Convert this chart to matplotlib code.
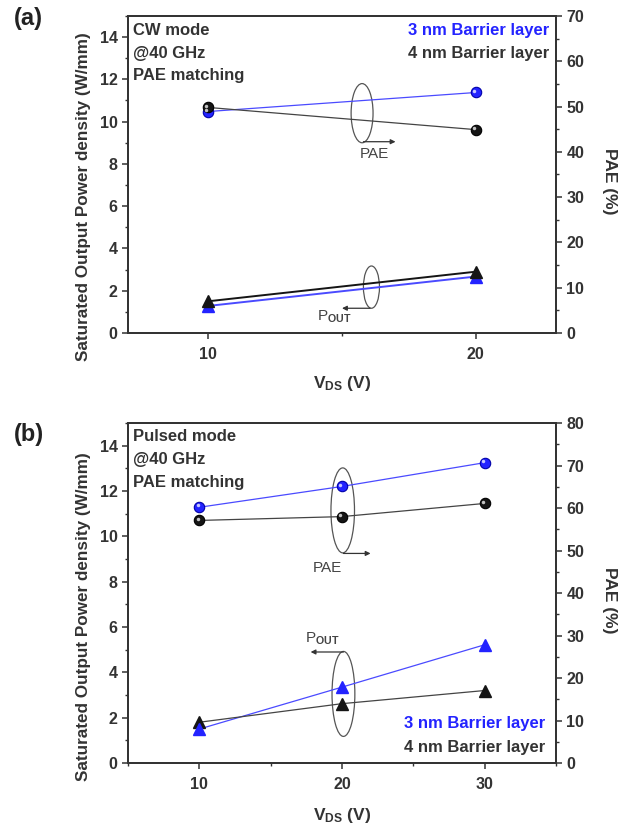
import matplotlib
matplotlib.use('Agg')
import matplotlib.pyplot as plt
from matplotlib.patches import Ellipse
from matplotlib.ticker import MultipleLocator
import matplotlib.transforms as mtransforms

plt.rcParams['font.family'] = ['Liberation Sans', 'DejaVu Sans']
plt.rcParams['font.weight'] = 'bold'
plt.rcParams['mathtext.fontset'] = 'custom'
plt.rcParams['mathtext.rm'] = 'Liberation Sans'
plt.rcParams['mathtext.bf'] = 'Liberation Sans:bold'
plt.rcParams['mathtext.it'] = 'Liberation Sans:italic'

# ---------------- data ----------------
vds_a = [10, 20]
pae_a_3nm = [48.9, 53.1]
pae_a_4nm = [49.8, 44.9]
pout_a_3nm = [1.28, 2.67]
pout_a_4nm = [1.50, 2.90]

vds_b = [10, 20, 30]
pae_b_3nm = [60.2, 65.1, 70.7]
pae_b_4nm = [57.1, 58.0, 61.1]
pout_b_3nm = [1.50, 3.35, 5.22]
pout_b_4nm = [1.80, 2.62, 3.20]

mode_a = ['CW mode', '@40 GHz', 'PAE matching']
mode_b = ['Pulsed mode', '@40 GHz', 'PAE matching']
legend_labels = ['3 nm Barrier layer', '4 nm Barrier layer']

BLUE = '#2323ff'
BLUE_LINE = '#4a4aff'
BLACK = '#151515'
GRAY = '#333333'

fig = plt.figure(figsize=(6.24, 8.31), dpi=100)
fig.patch.set_facecolor('white')


def sphere(ax, x, y, color, edge):
    ax.plot(x, y, ls='none', marker='o', ms=7.5, mfc=color, mec=edge, mew=0.8, zorder=5)
    tr = mtransforms.offset_copy(ax.transData, fig=fig, x=-1.3, y=1.3, units='points')
    ax.plot(x, y, ls='none', marker='o', ms=2.5, mfc='white', mec='none', alpha=0.75,
            transform=tr, zorder=6)


def style_axes(ax, ax2, xlim, xmaj, right_max):
    ax.set_xlim(*xlim)
    ax.set_ylim(0, 15)
    ax2.set_ylim(0, right_max)
    ax.xaxis.set_major_locator(MultipleLocator(xmaj))
    ax.xaxis.set_minor_locator(MultipleLocator(5))
    ax.yaxis.set_major_locator(MultipleLocator(2))
    ax.yaxis.set_minor_locator(MultipleLocator(1))
    ax2.yaxis.set_major_locator(MultipleLocator(10))
    ax2.yaxis.set_minor_locator(MultipleLocator(5))
    ax.set_yticks([0, 2, 4, 6, 8, 10, 12, 14])
    for a in (ax, ax2):
        a.tick_params(which='major', direction='out', length=4, width=1.1,
                      labelsize=11.5, colors=GRAY)
        a.tick_params(which='minor', direction='out', length=2.5, width=1.0, colors=GRAY)
        for s in a.spines.values():
            s.set_color(GRAY)
            s.set_linewidth(1.3)
    ax.tick_params(axis='x', pad=6)
    ax.text(-0.103, 0.43, 'Saturated Output Power density (W/mm)', transform=ax.transAxes,
            rotation=90, ha='center', va='center', fontsize=12.3, color=GRAY)
    ax.text(1.124, 0.48, 'PAE (%)', transform=ax.transAxes, rotation=270,
            ha='center', va='center', fontsize=12.5, color=GRAY)


def annot(ax, ell_xy, ell_w, ell_h, start, end, label, label_xy):
    ax.add_patch(Ellipse(ell_xy, ell_w, ell_h, fill=False, ec='#555555', lw=0.9, zorder=3))
    ax.annotate('', xy=end, xytext=start,
                arrowprops=dict(arrowstyle='-|>', lw=0.9, color='#333333',
                                mutation_scale=7, shrinkA=0, shrinkB=0), zorder=3)
    ax.text(label_xy[0], label_xy[1], label, ha='center', va='center', fontsize=11,
            fontweight='normal', color='#444444')


# ---------------- panel (a) ----------------
axA = fig.add_axes([0.2051, 0.5993, 0.686, 0.3815])
axA2 = axA.twinx()
style_axes(axA, axA2, (7, 23), 10, 70)

axA.plot(vds_a, pout_a_3nm, color=BLUE_LINE, lw=1.4, zorder=4)
axA.plot(vds_a, pout_a_4nm, color=BLACK, lw=1.4, zorder=4)
axA.plot(vds_a, pout_a_3nm, ls='none', marker='^', ms=8, color=BLUE, zorder=5)
axA.plot(vds_a, pout_a_4nm, ls='none', marker='^', ms=8, color=BLACK, zorder=5)

axA2.plot(vds_a, pae_a_3nm, color=BLUE_LINE, lw=0.9, zorder=4)
axA2.plot(vds_a, pae_a_4nm, color='#444444', lw=0.9, zorder=4)
sphere(axA2, vds_a, pae_a_3nm, BLUE, '#0000aa')
sphere(axA2, vds_a, pae_a_4nm, BLACK, '#000000')

annot(axA, (15.75, 10.4), 0.82, 2.8, (15.8, 9.05), (17.0, 9.05), 'PAE', (16.2, 8.45))
annot(axA, (16.1, 2.17), 0.6, 2.0, (16.05, 1.17), (15.0, 1.17), r'P$_{\mathrm{OUT}}$', (14.7, 0.75))

for i, t in enumerate(mode_a):
    axA.text(0.012, 0.955 - i * 0.072, t, transform=axA.transAxes, ha='left', va='center',
             fontsize=12, color=GRAY)
axA.text(0.985, 0.955, legend_labels[0], transform=axA.transAxes, ha='right', va='center',
         fontsize=12, color=BLUE)
axA.text(0.985, 0.883, legend_labels[1], transform=axA.transAxes, ha='right', va='center',
         fontsize=12, color=GRAY)
axA.text(0.5, -0.158, r'$\mathbf{V_{DS}}$ (V)', transform=axA.transAxes, ha='center',
         va='center', fontsize=12.5, color=GRAY)
fig.text(0.045, 0.978, '(a)', ha='center', va='center', fontsize=17, color='#222222')

# ---------------- panel (b) ----------------
axB = fig.add_axes([0.2051, 0.0818, 0.686, 0.409])
axB2 = axB.twinx()
style_axes(axB, axB2, (5, 35), 10, 80)

axB.plot(vds_b, pout_b_3nm, color=BLUE_LINE, lw=0.9, zorder=4)
axB.plot(vds_b, pout_b_4nm, color='#444444', lw=0.9, zorder=4)
axB.plot(vds_b, pout_b_4nm, ls='none', marker='^', ms=8, color=BLACK, zorder=5)
axB.plot(vds_b, pout_b_3nm, ls='none', marker='^', ms=8, color=BLUE, zorder=5)

axB2.plot(vds_b, pae_b_3nm, color=BLUE_LINE, lw=0.9, zorder=4)
axB2.plot(vds_b, pae_b_4nm, color='#444444', lw=0.9, zorder=4)
sphere(axB2, vds_b, pae_b_3nm, BLUE, '#0000aa')
sphere(axB2, vds_b, pae_b_4nm, BLACK, '#000000')

annot(axB, (20.05, 11.15), 1.65, 3.75, (20.1, 9.25), (22.0, 9.25), 'PAE', (18.95, 8.6))
annot(axB, (20.1, 3.05), 1.6, 3.75, (20.1, 4.9), (17.8, 4.9), r'P$_{\mathrm{OUT}}$', (18.6, 5.5))

for i, t in enumerate(mode_b):
    axB.text(0.012, 0.96 - i * 0.068, t, transform=axB.transAxes, ha='left', va='center',
             fontsize=12, color=GRAY)
axB.text(0.975, 0.115, legend_labels[0], transform=axB.transAxes, ha='right', va='center',
         fontsize=12, color=BLUE)
axB.text(0.975, 0.045, legend_labels[1], transform=axB.transAxes, ha='right', va='center',
         fontsize=12, color=GRAY)
axB.text(0.5, -0.153, r'$\mathbf{V_{DS}}$ (V)', transform=axB.transAxes, ha='center',
         va='center', fontsize=12.5, color=GRAY)
fig.text(0.047, 0.477, '(b)', ha='center', va='center', fontsize=17, color='#222222')

fig.savefig('out.png', dpi=100, facecolor='white')
